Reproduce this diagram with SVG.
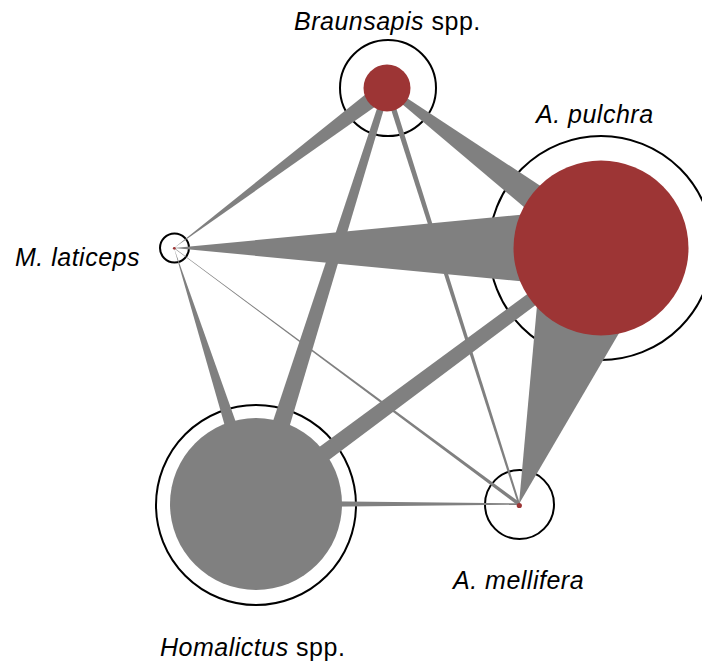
<svg xmlns="http://www.w3.org/2000/svg" width="702" height="663" viewBox="0 0 702 663">
<style>
.ring{fill:none;stroke:#000;stroke-width:2}
.core{fill:#9d3535}
.coreg{fill:#808080}
.edge{fill:#808080;stroke:none}
.lab{font-family:"Liberation Sans",Arial,sans-serif;font-size:25px;letter-spacing:0.5px;fill:#000}
.it{font-style:italic}
</style>
<rect width="702" height="663" fill="#fff"/>
<g id="rings">
<circle class="ring" cx="388" cy="88" r="48"/>
<circle class="ring" cx="601" cy="248" r="112"/>
<circle class="ring" cx="174.5" cy="248" r="14.5" stroke-width="2.4"/>
<circle class="ring" cx="256" cy="505" r="100"/>
<circle class="ring" cx="519.5" cy="504.5" r="34.5"/>
</g>
<g id="connectors">
<polygon class="edge" points="381.9,81.2 174,248 392.1,94.8"/>
<polygon class="edge" points="385.44,90.08 589.92,262.82 612.08,233.18 388.56,85.92"/>
<polygon class="edge" points="384.14,87.1 246.46,501 265.54,507 389.86,88.9"/>
<polygon class="edge" points="384.38,88.83 518.05,504.3 519.95,503.7 389.62,87.17"/>
<polygon class="edge" points="174,248 601,289 601,207"/>
<polygon class="edge" points="174,248 247.91,506.59 264.09,501.41"/>
<polygon class="edge" points="173.88,248.16 517.96,505.41 520.04,502.6 174.12,247.84"/>
<polygon class="edge" points="597.13,242.78 250.94,497.17 261.07,510.83 604.87,253.22"/>
<polygon class="edge" points="543.88,229.7 519,504 658.12,266.3"/>
<polygon class="edge" points="256,507.5 519,504.75 519,503.25 256,500.5"/>
</g>
<g id="node-braunsapis">
<circle class="core" cx="387" cy="88" r="23.5"/>
<text class="lab" x="294" y="30"><tspan class="it">Braunsapis</tspan> spp.</text>
</g>
<g id="node-pulchra">
<circle class="core" cx="601" cy="248" r="87.5"/>
<text class="lab it" x="536" y="123">A. pulchra</text>
</g>
<g id="node-laticeps">
<circle class="core" cx="174.3" cy="248.3" r="1.4"/>
<text class="lab it" x="15" y="266">M. laticeps</text>
</g>
<g id="node-homalictus">
<circle class="coreg" cx="256" cy="504" r="86"/>
<text class="lab" x="160" y="656"><tspan class="it">Homalictus</tspan> spp.</text>
</g>
<g id="node-mellifera">
<circle class="core" cx="519.3" cy="505.5" r="2.6"/>
<text class="lab it" x="453" y="589">A. mellifera</text>
</g>
</svg>
